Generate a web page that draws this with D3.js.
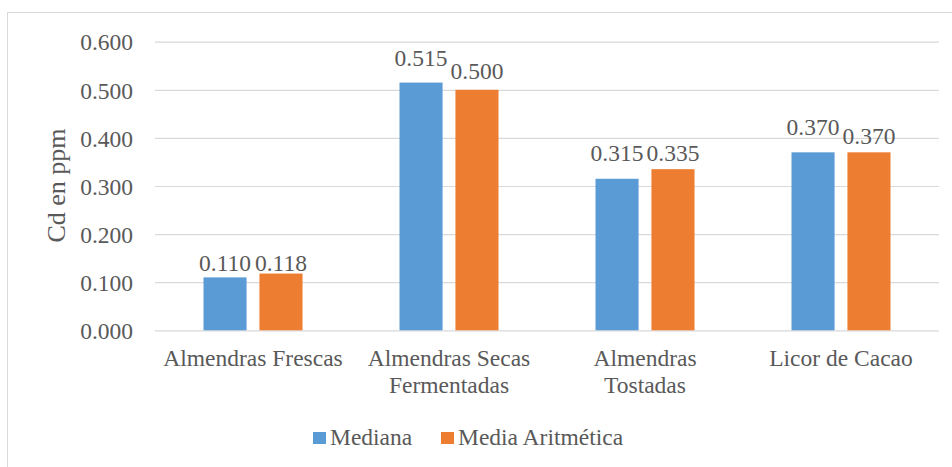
<!DOCTYPE html>
<html>
<head>
<meta charset="utf-8">
<script src="https://cdn.jsdelivr.net/npm/d3@7"></script>
<style>
  html, body { margin: 0; padding: 0; background: #fff; }
  svg { display: block; }
  text { font-family: "Liberation Serif", "Times New Roman", serif; fill: #595959; }
</style>
</head>
<body>
<script>
// ---- data ----
const categories = ["Almendras Frescas", "Almendras Secas Fermentadas", "Almendras Tostadas", "Licor de Cacao"];
const seriesNames = ["Mediana", "Media Aritmética"];
const medianaValues = [0.110, 0.515, 0.315, 0.370];
const mediaValues = [0.118, 0.500, 0.335, 0.370];
const yTicks = [0, 0.1, 0.2, 0.3, 0.4, 0.5, 0.6];
const yTitle = "Cd en ppm";

// ---- layout / style (not data) ----
const W = 952, H = 467;
const plot = { left: 155, right: 939, top: 41.7, bottom: 330.3 };
const colors = ["#5B9BD5", "#ED7D31"];
const fontSize = 23.5;
// Excel shifts data labels to avoid collisions; pixel lift per label
const labelLift = [[6.5, 2.7], [16.8, 11], [17.8, 8.2], [17.4, 8.4]];

const svg = d3.select("body").append("svg").attr("width", W).attr("height", H);

// chart frame
svg.append("rect").attr("x", 7.5).attr("y", 12.5).attr("width", W + 20).attr("height", H + 20)
  .attr("fill", "none").attr("stroke", "#d9d9d9").attr("stroke-width", 1);

const y = d3.scaleLinear().domain([0, 0.6]).range([plot.bottom, plot.top]);
const x0 = d3.scaleBand().domain(categories).range([plot.left, plot.right]).padding(0);
const groupW = 99;
const x1 = d3.scaleBand().domain(seriesNames).range([0, groupW]).paddingInner(0.23).paddingOuter(0);

// y axis with gridlines
const yAxis = d3.axisLeft(y).tickValues(yTicks).tickFormat(d3.format(".3f"))
  .tickSize(-(plot.right - plot.left)).tickPadding(22);
const gy = svg.append("g").attr("transform", `translate(${plot.left},0)`).call(yAxis);
gy.select(".domain").remove();
gy.selectAll(".tick line").attr("stroke", "#d9d9d9").attr("stroke-width", 1.2);
gy.selectAll(".tick text").attr("font-size", fontSize).attr("fill", "#595959")
  .style("font-family", '"Liberation Serif", serif').attr("dy", "0.35em");

// bars
const rows = categories.map((c, i) => ({ c, i, vals: [medianaValues[i], mediaValues[i]] }));
const groups = svg.append("g").selectAll("g").data(rows).join("g")
  .attr("transform", d => `translate(${x0(d.c) + x0.bandwidth() / 2 - groupW / 2},0)`);

groups.selectAll("rect").data(d => d.vals.map((v, k) => ({ v, k, s: seriesNames[k] })))
  .join("rect")
  .attr("x", d => x1(d.s))
  .attr("width", x1.bandwidth())
  .attr("y", d => y(d.v))
  .attr("height", d => y(0) - y(d.v))
  .attr("fill", d => colors[d.k]);

groups.selectAll("text.lbl").data(d => d.vals.map((v, k) => ({ v, k, s: seriesNames[k], i: d.i })))
  .join("text").attr("class", "lbl")
  .attr("x", d => x1(d.s) + x1.bandwidth() / 2)
  .attr("y", d => y(d.v) - labelLift[d.i][d.k])
  .attr("text-anchor", "middle")
  .attr("font-size", fontSize)
  .text(d => d3.format(".3f")(d.v));

// category labels (wrapped)
const catG = svg.append("g");
categories.forEach(c => {
  const t = catG.append("text")
    .attr("x", x0(c) + x0.bandwidth() / 2)
    .attr("y", 366)
    .attr("text-anchor", "middle")
    .attr("font-size", fontSize);
  const words = c.split(" ");
  let line = [];
  let lineNo = 0;
  let tspan = t.append("tspan").attr("x", x0(c) + x0.bandwidth() / 2).attr("dy", 0);
  words.forEach(w => {
    line.push(w);
    tspan.text(line.join(" "));
    if (tspan.node().getComputedTextLength() > 185 && line.length > 1) {
      line.pop();
      tspan.text(line.join(" "));
      line = [w];
      lineNo++;
      tspan = t.append("tspan").attr("x", x0(c) + x0.bandwidth() / 2).attr("dy", 27).text(w);
    }
  });
});

// y title
svg.append("text")
  .attr("transform", "translate(65,185.5) rotate(-90)")
  .attr("text-anchor", "middle")
  .attr("font-size", 26)
  .text(yTitle);

// legend
const legendItems = [{ x: 313, tx: 330 }, { x: 441, tx: 458 }];
const lg = svg.append("g");
seriesNames.forEach((s, k) => {
  lg.append("rect").attr("x", legendItems[k].x).attr("y", 432).attr("width", 13).attr("height", 12)
    .attr("fill", colors[k]);
  lg.append("text").attr("x", legendItems[k].tx).attr("y", 445).attr("font-size", fontSize).text(s);
});
</script>
</body>
</html>
